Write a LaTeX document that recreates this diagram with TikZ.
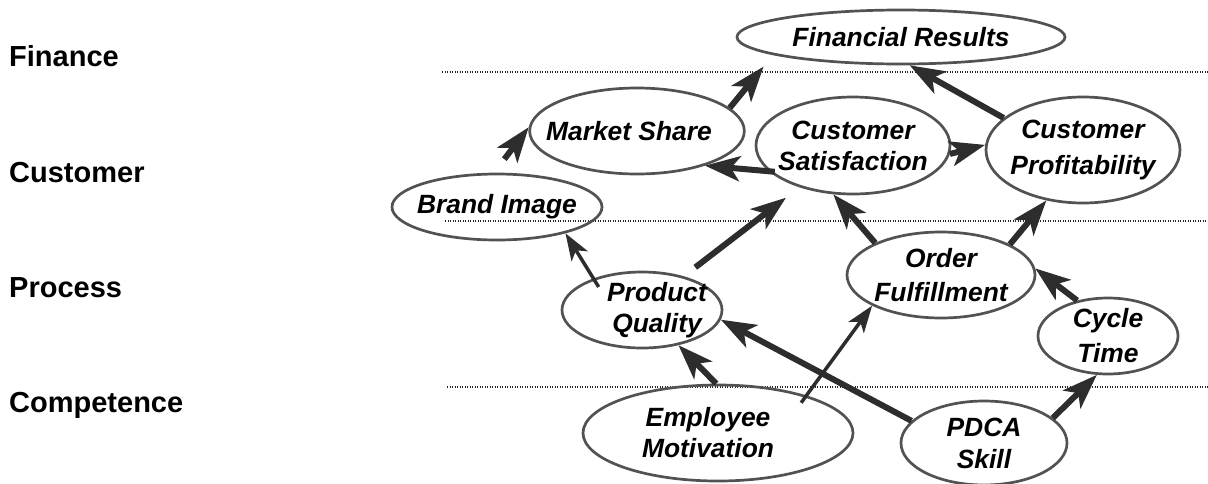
\documentclass[tikz,border=0pt]{standalone}
\usepackage{fontspec}
\setmainfont{Liberation Sans}
\usetikzlibrary{shapes.geometric,arrows.meta}
\definecolor{ringgray}{HTML}{525252}
\definecolor{shaftgray}{HTML}{2D2D2D}
\newcommand{\bubblefont}{\fontsize{26.4}{31}\selectfont\bfseries\itshape}
\newcommand{\tierfont}{\fontsize{29}{34}\selectfont\bfseries}
\tikzset{
  bubble/.style={ellipse, draw=ringgray, line width=2.7pt, inner sep=-15pt,
    font=\bubblefont, align=center},
  tier/.style={anchor=base west, font=\tierfont, inner sep=0pt},
  divider/.style={line width=1.1pt, dash pattern=on 1.1pt off 1.4pt, black!85},
  bigarrow/.style={draw=shaftgray, line width=6pt,
    -{Stealth[length=35pt, width=25pt, inset=9pt]}},
  slimarrow/.style={draw=shaftgray, line width=3.5pt,
    -{Stealth[length=27pt, width=19pt, inset=7pt]}}
}
\begin{document}
\begin{tikzpicture}[x=1pt, y=-1pt]
  \useasboundingbox (0,0) rectangle (1208,483);

  % tier labels
  \node[tier] (finance)    at (9,66)  {Finance};
  \node[tier] (customer)   at (9,182) {Customer};
  \node[tier] (process)    at (9,297) {Process};
  \node[tier] (competence) at (9,412) {Competence};

  % tier dividers
  \coordinate (d1a) at (442,72);  \coordinate (d1b) at (1208,72);
  \coordinate (d2a) at (445,221); \coordinate (d2b) at (1208,221);
  \coordinate (d3a) at (447,387); \coordinate (d3b) at (1208,387);
  \draw[divider] (d1a) -- (d1b);
  \draw[divider] (d2a) -- (d2b);
  \draw[divider] (d3a) -- (d3b);

  % objectives
  \node[bubble, minimum width=328pt, minimum height=54pt] (FR) at (901,37) {Financial Results};
  \node[bubble, minimum width=200pt, minimum height=86pt] (MS) at (637,131) {Market Share\hspace*{16pt}};
  \node[bubble, minimum width=210pt, minimum height=66pt] (BI) at (497,207) {Brand Image};
  \node[bubble, minimum width=194pt, minimum height=97pt] (CS) at (853,145.5) {Customer\\Satisfaction};
  \node[bubble, minimum width=194pt, minimum height=106pt] (CP) at (1083,150) {Customer\\[5pt]Profitability};
  \node[bubble, minimum width=160pt, minimum height=76pt] (PQ) at (642,310) {\hspace*{30pt}Product\\\hspace*{30pt}Quality};
  \node[bubble, minimum width=188pt, minimum height=86pt] (OF) at (941,275) {Order\\[3pt]Fulfillment};
  \node[bubble, minimum width=140pt, minimum height=76pt] (CT) at (1108,336) {Cycle\\[4pt]Time};
  \node[bubble, minimum width=270pt, minimum height=96pt] (EM) at (718,433) {Employee\hspace*{20pt}\\Motivation\hspace*{20pt}};
  \node[bubble, minimum width=166pt, minimum height=84pt] (PD) at (984,443) {PDCA\\[1pt]Skill};

  % cause-and-effect links
  \draw[bigarrow, shorten >=15pt] (MS.14) -- (FR.188);
  \draw[bigarrow, shorten <=17pt] (BI.95) -- (MS.178);
  \draw[bigarrow, shorten <=-6pt] (CS.197) -- (MS.333);
  \draw[bigarrow] (CP.158) -- (FR.287);
  \draw[bigarrow] (CS.-5) -- (CP.177);
  \draw[bigarrow, shorten <=14.6pt, shorten >=17pt] (PQ.39) -- (CS.218);
  \draw[slimarrow, shorten <=-10pt] (PQ.147) -- (BI.339);
  \draw[bigarrow] (OF.154) -- (CS.248);
  \draw[bigarrow] (OF.24) -- (CP.234);
  \draw[bigarrow] (CT.131) -- (OF.4);
  \draw[bigarrow] (PD.20) -- (CT.254);
  \draw[bigarrow] (PD.163) -- (PQ.353);
  \draw[bigarrow] (EM.92) -- (PQ.316);
  \draw[slimarrow, shorten <=-9pt] (EM.23.5) -- (OF.204);
\end{tikzpicture}
\end{document}
